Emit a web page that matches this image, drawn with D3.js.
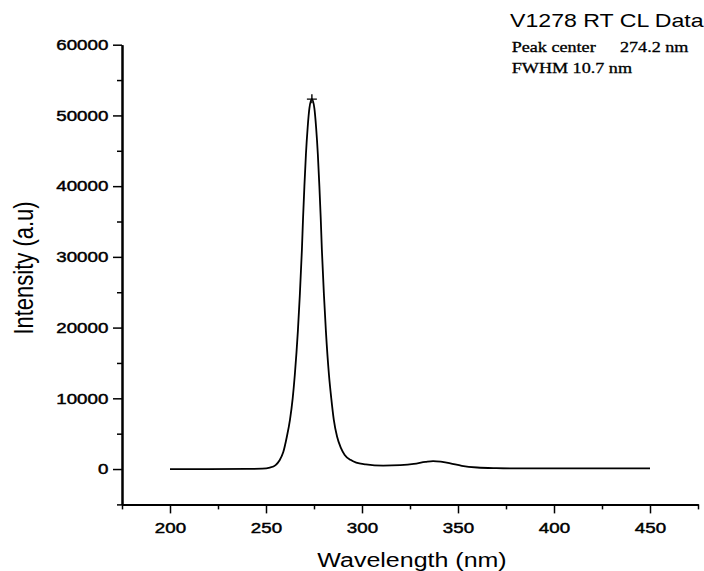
<!DOCTYPE html>
<html>
<head>
<meta charset="UTF-8">
<title>V1278 RT CL Data</title>
<script src="https://cdn.jsdelivr.net/npm/d3@7"></script>
<style>
    body{ margin:0; background:#fff; }
    svg{ display:block; }
    .axis path, .axis line{ stroke:#000; }
    .axis text{ font-family:"Liberation Sans", Arial, sans-serif; font-size:15px; fill:#000; stroke:#000; stroke-width:0.45px; }
</style>
</head>
<body>
<div id="root"></div>
<script>
    // data
    let wavelength = [200, 220, 240, 248, 252, 255, 257, 259, 260.8, 262.5, 263.9, 265, 266.6, 267.6, 268.7, 269.3, 270, 270.8,
                      271.7, 272.6, 273.9, 275.2, 276.1, 277, 277.8, 278.5, 279.1, 280.2, 281.2, 282.8, 284, 285.3, 287,
                      289, 291, 294, 297, 302, 311, 320, 327, 333, 337, 341, 346, 352, 360, 370, 380, 400, 450]
    let intensity = [0, 0, 20, 60, 200, 550, 1200, 2400, 4500, 7000, 10000, 13300, 19500, 24500, 31000, 35500, 40000, 44500,
                     48300, 51000, 52300, 51000, 48300, 44500, 40000, 35500, 31000, 24500, 19500, 13300, 10000, 7000, 4600,
                     3000, 2000, 1300, 900, 650, 480, 550, 720, 1000, 1130, 1050, 800, 450, 220, 130, 100, 100, 100]
    let xMajor = [200, 250, 300, 350, 400, 450]
    let xMinor = [175, 225, 275, 325, 375, 425, 475]
    let yMajor = [0, 10000, 20000, 30000, 40000, 50000, 60000]
    let yMinor = [-5000, 5000, 15000, 25000, 35000, 45000, 55000]
    let title = "V1278 RT CL Data"
    let notes = ["Peak center", "274.2 nm", "FWHM 10.7 nm"]

    let width = 704, height = 571
    let mLeft = 122, mRight = 698, mTop = 44.7, mBottom = 504.4
    // the scan is stretched sideways, so text is too
    let SX = 1.25

    let svg = d3.select("#root").append("svg").attr("width", width).attr("height", height)

    let x = d3.scaleLinear().domain([175, 475]).range([mLeft, mRight])
    let y = d3.scaleLinear().domain([-5000, 60000]).range([mBottom, mTop])

    function stretchText(sel, tx, ty, extra){
        sel.attr("x", 0).attr("y", 0)
           .attr("transform", "translate(" + tx + "," + ty + ") scale(" + SX + ",1)" + (extra || ""))
    }

    // x axis
    let gx = svg.append("g").attr("class", "axis").attr("transform", "translate(0," + mBottom + ")")
    gx.call(d3.axisBottom(x).tickValues(xMinor).tickSize(5).tickSizeOuter(0).tickFormat(""))
    gx.append("g").call(d3.axisBottom(x).tickValues(xMajor).tickSize(9).tickSizeOuter(0).tickFormat(d3.format("d")))
    gx.selectAll("path.domain").attr("stroke-width", 2)
    gx.selectAll("line").attr("stroke-width", 1.5)
    gx.selectAll("text").attr("dy", null).attr("y", 29).attr("x", 0).attr("transform", "scale(" + SX + ",1)")

    // y axis
    let gy = svg.append("g").attr("class", "axis").attr("transform", "translate(" + mLeft + ",0)")
    gy.call(d3.axisLeft(y).tickValues(yMinor).tickSize(5).tickSizeOuter(0).tickFormat(""))
    gy.append("g").call(d3.axisLeft(y).tickValues(yMajor).tickSize(9).tickSizeOuter(0).tickFormat(d3.format("d")))
    gy.selectAll("path.domain").attr("stroke-width", 2)
    gy.selectAll("line").attr("stroke-width", 1.5)
    gy.selectAll("text").attr("x", -13.7 / SX).attr("transform", "scale(" + SX + ",1)")

    // spectrum
    let pts = wavelength.map((w, i) => [w, intensity[i]])
    let line = d3.line().x(d => x(d[0])).y(d => y(d[1])).curve(d3.curveMonotoneX)
    svg.append("path").datum(pts).attr("d", line)
       .attr("fill", "none").attr("stroke", "#000").attr("stroke-width", 1.8)

    // peak marker
    let peak = d3.greatest(pts, d => d[1])
    let px = x(peak[0]), py = y(peak[1])
    svg.append("path")
       .attr("d", "M" + (px - 5) + "," + py + "H" + (px + 5) + "M" + px + "," + (py - 5) + "V" + (py + 4))
       .attr("stroke", "#000").attr("stroke-width", 1.4)

    // titles
    svg.append("text").text(title)
       .attr("font-family", "Liberation Sans, Arial, sans-serif").attr("font-size", 18.5)
       .call(stretchText, 510, 26.7)

    let noteFont = "Liberation Serif, Times New Roman, serif"
    svg.append("text").text(notes[0]).attr("font-family", noteFont).attr("font-size", 14.5)
       .attr("stroke", "#000").attr("stroke-width", 0.3).call(stretchText, 511.7, 51.7)
    svg.append("text").text(notes[1]).attr("font-family", noteFont).attr("font-size", 14.5)
       .attr("stroke", "#000").attr("stroke-width", 0.3).call(stretchText, 620, 51.7)
    svg.append("text").text(notes[2]).attr("font-family", noteFont).attr("font-size", 14.5)
       .attr("stroke", "#000").attr("stroke-width", 0.3).call(stretchText, 511.7, 73)

    svg.append("text").text("Wavelength (nm)")
       .attr("font-family", "Liberation Sans, Arial, sans-serif").attr("font-size", 20)
       .attr("text-anchor", "middle")
       .call(stretchText, 412, 567)

    svg.append("text").text("Intensity (a.u)")
       .attr("font-family", "Liberation Sans, Arial, sans-serif").attr("font-size", 22)
       .attr("text-anchor", "middle")
       .call(stretchText, 32.5, 268, " rotate(-90)")
</script>
</body>
</html>
